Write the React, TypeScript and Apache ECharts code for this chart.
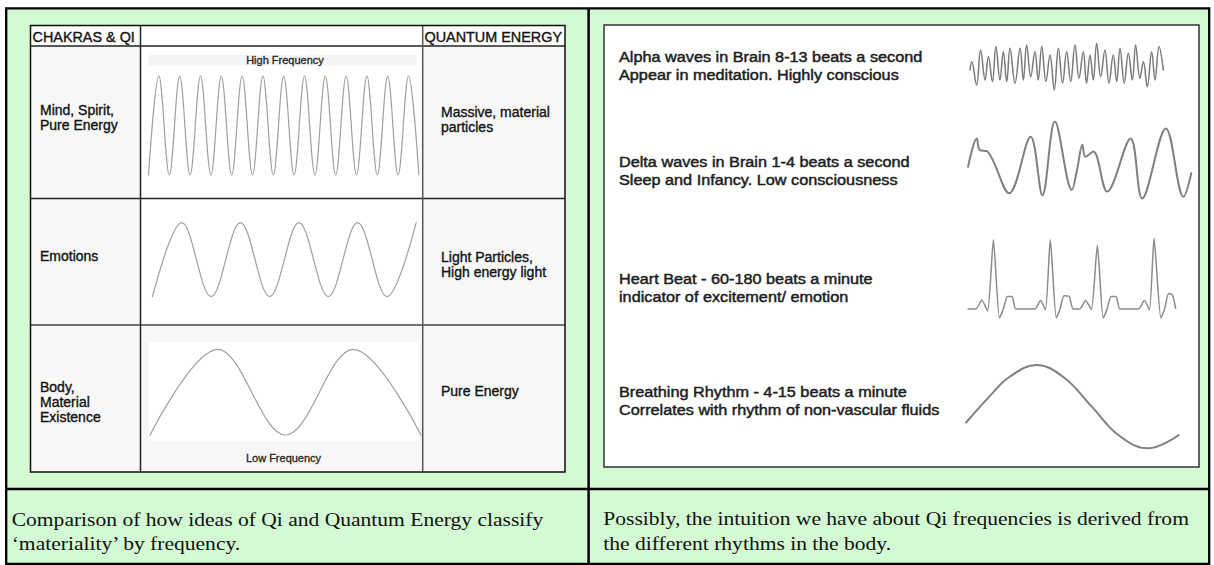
import React, { useEffect, useRef } from "react";
import * as echarts from "echarts";

// ---------- DATA ----------
// Left panel: idealised waves (x in cycles, y normalised amplitude)
const highFrequencyWave: number[][] = [
  [0, -1], [0.5, 1], [1, -1], [1.5, 1], [2, -1], [2.5, 1], [3, -1], [3.5, 1], [4, -1], [4.5, 1],
  [5, -1], [5.5, 1], [6, -1], [6.5, 1], [7, -1], [7.5, 1], [8, -1], [8.5, 1], [9, -1], [9.5, 1],
  [10, -1], [10.5, 1], [11, -1], [11.5, 1], [12, -1], [12.5, 1], [13, -1],
];
const emotionsWave: number[][] = [
  [0, -1], [0.5, 1], [1, -1], [1.5, 1], [2, -1], [2.5, 1], [3, -1], [3.5, 1], [4, -1], [4.5, 1],
];
const lowFrequencyWave: number[][] = [[0, -1], [0.5, 1], [1, -1], [1.5, 1], [2, -1]];

// Right panel: body rhythms (x = % of trace, y = relative amplitude)
const alphaWave: number[][] = [
  [0, -0.14], [0.9, 0.21], [3.4, -0.79], [5.5, 0.71], [7.8, -0.57], [9.5, 0.43], [11.6, -0.64],
  [13.4, 0.86], [15.5, -0.57], [17.2, 0.64], [19.0, -0.64], [20.7, 0.79], [23.3, -0.71], [25.9, 0.79],
  [27.6, -0.57], [29.3, 0.93], [31.4, -0.43], [33.6, 0.64], [35.3, -0.57], [37.1, 0.86], [39.3, -0.64],
  [41.4, 0.5], [43.6, -1.0], [45.7, 0.79], [47.9, -0.71], [50.0, 0.64], [52.1, -0.64], [54.3, 0.93],
  [56.4, -0.5], [58.6, 0.64], [60.3, -0.71], [62.1, 0.5], [63.8, -0.57], [65.5, 1.0], [67.6, -0.43],
  [69.8, 0.71], [71.9, -0.71], [74.1, 0.5], [75.9, -0.64], [77.6, 0.79], [79.8, -0.71], [81.9, 0.57],
  [84.0, -0.57], [85.7, 0.93], [87.9, -0.5], [89.7, 0.21], [91.7, -0.86], [94.0, 0.64], [95.7, -0.57],
  [97.8, 0.86], [100, -0.14],
];
const deltaWave: number[][] = [
  [0, -0.17], [3.9, 0.54], [5.2, 0.25], [8.8, 0.21], [18.4, -0.83], [28.0, 0.58], [33.3, -0.88],
  [38.9, 0.96], [46.5, -0.75], [48.8, -0.25], [51.2, 0.38], [52.6, 0.08], [56.1, 0.21], [62.3, -0.79],
  [72.8, 0.54], [78.0, -0.96], [88.6, 0.79], [96.5, -0.92], [100, -0.33],
];
const heartBeat: number[][] = [
  [0, 0], [3.8, 0], [6.6, 0.13], [9.4, -0.03], [12.2, 0.99], [15.1, -0.13], [17.0, 0], [18.9, 0.18],
  [21.2, 0.18], [23.0, 0], [32.1, 0], [34.9, 0.12], [37.3, -0.01], [39.6, 0.99], [42.5, -0.13],
  [44.3, 0], [46.2, 0.19], [48.7, 0.18], [50.6, 0], [53.8, 0], [56.6, 0.12], [59.4, -0.01],
  [62.3, 0.91], [65.1, -0.13], [67.0, 0], [68.9, 0.18], [71.3, 0.18], [73.2, 0], [82.1, 0],
  [84.9, 0.12], [87.4, -0.01], [89.6, 1.01], [92.9, -0.13], [94.7, 0], [96.6, 0.22], [98.5, 0.2],
  [100, 0.01],
];
const breathingRhythm: number[][] = [
  [0, -0.38], [12, 0.3], [20, 0.7], [33.1, 1], [46, 0.7], [59.1, 0], [72, -0.7], [85.6, -1], [100, -0.68],
];

// Texts
const headerLeft = "CHAKRAS & QI";
const headerRight = "QUANTUM ENERGY";
const chakraLabels: string[][] = [["Mind, Spirit,", "Pure Energy"], ["Emotions"], ["Body,", "Material", "Existence"]];
const quantumLabels: string[][] = [["Massive, material", "particles"], ["Light Particles,", "High energy light"], ["Pure Energy"]];
const frequencyLabels = ["High Frequency", "Low Frequency"];
const rhythmLabels: string[][] = [
  ["Alpha waves in Brain 8-13 beats a second", "Appear in meditation. Highly conscious"],
  ["Delta waves in Brain 1-4 beats a second", "Sleep and Infancy. Low consciousness"],
  ["Heart Beat - 60-180 beats a minute", "indicator of excitement/ emotion"],
  ["Breathing Rhythm - 4-15 beats a minute", "Correlates with rhythm of non-vascular fluids"],
];
const captionLeft = ["Comparison of how ideas of Qi and Quantum Energy classify", "\u2018materiality\u2019 by frequency."];
const captionRight = ["Possibly, the intuition we have about Qi frequencies is derived from", "the different rhythms in the body."];

// ---------- STYLE / LAYOUT ----------
const GREEN = "#d3fad3";
const SANS = '"Liberation Sans", Arial, Helvetica, sans-serif';
const SERIF = '"Liberation Serif", "Times New Roman", Times, serif';

function txt(text: string, x: number, baseline: number, fontSize: number, opts: any = {}) {
  const family = opts.family || SANS;
  const k = family === SERIF ? 0.3375 : 0.3465;
  const align = opts.align || "left";
  const color = opts.color || "#111";
  const style: any = {
    text,
    fontSize,
    fontFamily: family,
    fontWeight: opts.weight || "normal",
    fill: color,
    align,
    textAlign: align,
    verticalAlign: "middle",
    textVerticalAlign: "middle",
  };
  if (opts.bolden) {
    style.stroke = color;
    style.lineWidth = opts.bolden;
  }
  return {
    type: "text",
    x,
    y: baseline - k * fontSize,
    scaleX: opts.scaleX || 1,
    z: 20,
    silent: true,
    style,
  };
}
function rect(x: number, y: number, w: number, h: number, fill: string, stroke?: string, lw?: number, z = 1) {
  return {
    type: "rect", z, silent: true,
    shape: { x, y, width: w, height: h },
    style: { fill, stroke: stroke || null, lineWidth: lw || 0 },
  };
}
function line(x1: number, y1: number, x2: number, y2: number, stroke: string, lw: number, z = 3) {
  return { type: "line", z, silent: true, shape: { x1, y1, x2, y2 }, style: { stroke, lineWidth: lw } };
}

const waveBoxes = [
  { left: 148.5, top: 76, width: 270.4, height: 99 },
  { left: 152.5, top: 222.7, width: 263.7, height: 74 },
  { left: 150, top: 349.3, width: 271, height: 85.7 },
  { left: 970, top: 43.3, width: 193.3, height: 46.7 },
  { left: 968.1, top: 120, width: 223.2, height: 80 },
  { left: 968.1, top: 239, width: 207.5, height: 84 },
  { left: 966.1, top: 365, width: 212.7, height: 83.3 },
];
const waves = [
  { data: highFrequencyWave, xmax: 13, ymin: -1, ymax: 1, color: "#a0a0a0", width: 1.2, smooth: 0.36 },
  { data: emotionsWave, xmax: 4.5, ymin: -1, ymax: 1, color: "#a0a0a0", width: 1.2, smooth: 0.36 },
  { data: lowFrequencyWave, xmax: 2, ymin: -1, ymax: 1, color: "#a0a0a0", width: 1.2, smooth: 0.36 },
  { data: alphaWave, xmax: 100, ymin: -1, ymax: 1, color: "#7a7a7a", width: 1.5, smooth: 0.4 },
  { data: deltaWave, xmax: 100, ymin: -1, ymax: 1, color: "#808080", width: 2, smooth: 0.35 },
  { data: heartBeat, xmax: 100, ymin: -0.2, ymax: 1, color: "#8a8a8a", width: 1.5, smooth: 0.2 },
  { data: breathingRhythm, xmax: 100, ymin: -1, ymax: 1, color: "#808080", width: 2, smooth: 0.4 },
];

function buildOption() {
  const graphics: any[] = [];
  // page cells
  graphics.push(rect(6, 8, 1204, 556, GREEN, undefined, 0, 0));
  // left table
  graphics.push(rect(30.5, 25.5, 534.5, 446.5, "#ffffff", undefined, 0, 1));
  graphics.push(rect(30.5, 46, 110, 426, "#f8f8f8", undefined, 0, 1));
  graphics.push(rect(422.7, 46, 142.3, 426, "#f8f8f8", undefined, 0, 1));
  graphics.push(rect(140.5, 325, 282, 147, "#f7f7f7", undefined, 0, 1));
  graphics.push(rect(148.5, 342, 270, 99, "#ffffff", undefined, 0, 2));
  graphics.push(rect(148.5, 55, 268.5, 10.5, "#f4f4f4", undefined, 0, 2));
  graphics.push(rect(30.5, 25.5, 534.5, 446.5, "none", "#111", 1.5, 4));
  graphics.push(line(30.5, 46, 565, 46, "#222", 1.5));
  graphics.push(line(30.5, 198.5, 565, 198.5, "#222", 1.5));
  graphics.push(line(30.5, 325, 565, 325, "#444", 1.5));
  graphics.push(line(140.5, 25.5, 140.5, 472, "#222", 1.5));
  graphics.push(line(422.7, 25.5, 422.7, 472, "#555", 1.5));
  // right image box
  graphics.push(rect(604, 25, 595, 442, "#ffffff", "#333", 1.5, 1));
  // outer borders
  graphics.push(rect(6.2, 8.3, 1203, 555.5, "none", "#000", 2.3, 5));
  graphics.push(line(588.6, 8, 588.6, 564, "#000", 2.5, 5));
  graphics.push(line(6, 489, 1210, 489, "#000", 2.5, 5));

  // left table texts
  graphics.push(txt(headerLeft, 32.5, 41.5, 14.4, { bolden: 0.35 }));
  graphics.push(txt(headerRight, 424.5, 41.5, 14.4, { bolden: 0.35 }));
  const chakraBase = [115.3, 260.7, 392];
  const quantumBase = [116.7, 261.7, 396];
  chakraLabels.forEach((lines, r) =>
    lines.forEach((s, i) => graphics.push(txt(s, 40, chakraBase[r] + i * 14.8, 14, { bolden: 0.35 })))
  );
  quantumLabels.forEach((lines, r) =>
    lines.forEach((s, i) => graphics.push(txt(s, 441, quantumBase[r] + i * 14.8, 14, { bolden: 0.35 })))
  );
  graphics.push(txt(frequencyLabels[0], 285, 64.3, 11, { align: "center", color: "#222", bolden: 0.3 }));
  graphics.push(txt(frequencyLabels[1], 283.5, 461.5, 11, { align: "center", color: "#222", bolden: 0.3 }));

  // right texts
  const rhythmBase = [61.7, 166.7, 283.3, 396.7];
  rhythmLabels.forEach((lines, r) =>
    lines.forEach((s, i) =>
      graphics.push(txt(s, 619, rhythmBase[r] + i * 18.2, 14, { scaleX: 1.16, color: "#1c1c1c", bolden: 0.45 }))
    )
  );

  // captions
  captionLeft.forEach((s, i) => graphics.push(txt(s, 11.7, 525.8 + i * 24, 18.5, { family: SERIF, scaleX: 1.165, color: "#111" })));
  captionRight.forEach((s, i) => graphics.push(txt(s, 603.3, 525 + i * 24.3, 18.5, { family: SERIF, scaleX: 1.165, color: "#111" })));

  const grid = waveBoxes.map((b) => ({ ...b, containLabel: false, show: false }));
  const xAxis = waves.map((w, i) => ({ type: "value", gridIndex: i, min: 0, max: w.xmax, show: false }));
  const yAxis = waves.map((w, i) => ({ type: "value", gridIndex: i, min: w.ymin, max: w.ymax, show: false }));
  const series = waves.map((w, i) => ({
    type: "line",
    xAxisIndex: i,
    yAxisIndex: i,
    data: w.data,
    smooth: w.smooth,
    showSymbol: false,
    symbol: "none",
    clip: false,
    silent: true,
    z: 10,
    lineStyle: { color: w.color, width: w.width, cap: "round", join: "round" },
  }));

  return {
    animation: false,
    backgroundColor: "#ffffff",
    grid,
    xAxis,
    yAxis,
    series,
    graphic: { elements: graphics },
  };
}

export default function App() {
  const ref = useRef<HTMLDivElement>(null);
  useEffect(() => {
    if (!ref.current) return;
    const chart = echarts.init(ref.current, undefined, { renderer: "svg" });
    chart.setOption(buildOption() as any);
    return () => chart.dispose();
  }, []);
  return (
    <div
      ref={ref}
      style={{ position: "fixed", left: 0, top: 0, width: 1214, height: 565, background: "#fff" }}
    />
  );
}
